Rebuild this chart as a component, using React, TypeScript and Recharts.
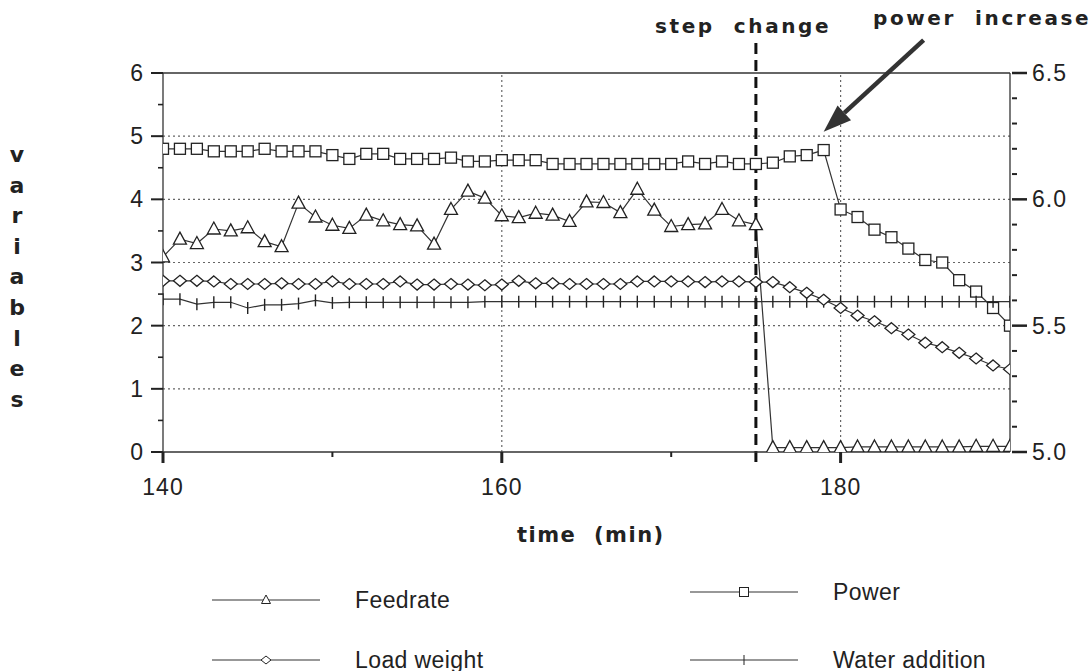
import React from 'react';
import { ComposedChart, Line, XAxis, YAxis, ReferenceLine } from 'recharts';

// time axis, one reading per minute
const minutes = [
  140, 141, 142, 143, 144, 145, 146, 147, 148, 149,
  150, 151, 152, 153, 154, 155, 156, 157, 158, 159,
  160, 161, 162, 163, 164, 165, 166, 167, 168, 169,
  170, 171, 172, 173, 174, 175, 176, 177, 178, 179,
  180, 181, 182, 183, 184, 185, 186, 187, 188, 189, 190,
];

const feedrate = [
  3.09, 3.37, 3.3, 3.53, 3.5, 3.55, 3.33, 3.25, 3.94, 3.72,
  3.59, 3.54, 3.75, 3.66, 3.6, 3.58, 3.29, 3.84, 4.13, 4.02,
  3.74, 3.71, 3.78, 3.75, 3.65, 3.96, 3.95, 3.79, 4.16, 3.83,
  3.57, 3.6, 3.61, 3.84, 3.66, 3.6, 0.07, 0.07, 0.07, 0.07,
  0.07, 0.08, 0.08, 0.08, 0.08, 0.08, 0.08, 0.08, 0.09, 0.09, 0.09,
];

// power is read on the right axis
const power = [
  6.2, 6.2, 6.2, 6.19, 6.19, 6.19, 6.2, 6.19, 6.19, 6.19,
  6.175, 6.16, 6.18, 6.18, 6.16, 6.16, 6.16, 6.165, 6.15, 6.15,
  6.155, 6.155, 6.155, 6.14, 6.14, 6.14, 6.14, 6.14, 6.14, 6.14,
  6.14, 6.15, 6.14, 6.15, 6.14, 6.14, 6.145, 6.17, 6.175, 6.195,
  5.96, 5.93, 5.88, 5.85, 5.805, 5.76, 5.75, 5.68, 5.635, 5.57, 5.5,
];

const loadWeight = [
  2.71, 2.71, 2.71, 2.7, 2.66, 2.66, 2.66, 2.67, 2.66, 2.66,
  2.7, 2.66, 2.66, 2.66, 2.7, 2.65, 2.65, 2.66, 2.65, 2.64,
  2.65, 2.71, 2.67, 2.67, 2.66, 2.66, 2.66, 2.66, 2.7, 2.7,
  2.7, 2.7, 2.69, 2.7, 2.7, 2.69, 2.69, 2.61, 2.52, 2.41,
  2.28, 2.16, 2.07, 1.96, 1.86, 1.73, 1.66, 1.57, 1.48, 1.37, 1.31,
];

const waterAddition = [
  2.42, 2.42, 2.34, 2.37, 2.37, 2.28, 2.33, 2.33, 2.35, 2.4,
  2.36, 2.37, 2.37, 2.37, 2.37, 2.37, 2.37, 2.37, 2.37, 2.38,
  2.38, 2.38, 2.38, 2.38, 2.38, 2.38, 2.38, 2.38, 2.38, 2.38,
  2.38, 2.38, 2.38, 2.38, 2.38, 2.38, 2.38, 2.38, 2.38, 2.38,
  2.38, 2.38, 2.38, 2.38, 2.38, 2.38, 2.38, 2.38, 2.38, 2.38, 2.38,
];

const leftTicks = [0, 0.5, 1, 1.5, 2, 2.5, 3, 3.5, 4, 4.5, 5, 5.5, 6];
const rightTicks = [
  5.0, 5.1, 5.2, 5.3, 5.4, 5.5, 5.6, 5.7, 5.8, 5.9,
  6.0, 6.1, 6.2, 6.3, 6.4, 6.5,
];
const timeTicks = [140, 150, 160, 170, 180];
const timeLabels = [140, 160, 180];
const gridValues = [1, 2, 3, 4, 5];
const gridTimes = [160, 180];
const stepChangeTime = 175;

const data = minutes.map((t, i) => ({
  t,
  feedrate: feedrate[i],
  power: power[i],
  load: loadWeight[i],
  water: waterAddition[i],
}));

const INK = '#222';
const FONT = '"Liberation Sans", Arial, sans-serif';
const BOLD_FONT = '"DejaVu Sans", "Liberation Sans", sans-serif';
const TICK_FONT = 23;

const TriangleDot = (p: any) => {
  const { cx, cy, index } = p;
  if (cx == null || cy == null) return null;
  return (
    <path
      key={`tri-${index}`}
      d={`M${cx},${cy - 7} L${cx + 6.5},${cy + 5} L${cx - 6.5},${cy + 5} Z`}
      fill="#fff"
      stroke={INK}
      strokeWidth={1.3}
    />
  );
};

const SquareDot = (p: any) => {
  const { cx, cy, index } = p;
  if (cx == null || cy == null) return null;
  return <rect key={`sq-${index}`} x={cx - 5.5} y={cy - 5.5} width={11} height={11} fill="#fff" stroke={INK} strokeWidth={1.3} />;
};

const DiamondDot = (p: any) => {
  const { cx, cy, index } = p;
  if (cx == null || cy == null) return null;
  return (
    <path
      key={`dm-${index}`}
      d={`M${cx},${cy - 5.5} L${cx + 6.5},${cy} L${cx},${cy + 5.5} L${cx - 6.5},${cy} Z`}
      fill="#fff"
      stroke={INK}
      strokeWidth={1.3}
    />
  );
};

const TickDot = (p: any) => {
  const { cx, cy, index } = p;
  if (cx == null || cy == null) return null;
  return <line key={`wt-${index}`} x1={cx} x2={cx} y1={cy - 6} y2={cy + 6} stroke={INK} strokeWidth={1.4} />;
};

const LeftTick = (p: any) => {
  const { x, y, payload } = p;
  const v = payload.value;
  const major = Number.isInteger(v);
  return (
    <g>
      <line x1={x} x2={x - (major ? 12 : 5)} y1={y} y2={y} stroke={INK} strokeWidth={major ? 2 : 1.6} />
      {major && (
        <text x={x - 20} y={y + 8} textAnchor="end" fontSize={TICK_FONT} fontFamily={FONT} fill={INK}>
          {v}
        </text>
      )}
    </g>
  );
};

const RightTick = (p: any) => {
  const { x, y, payload } = p;
  const v = payload.value;
  const major = Math.abs(v * 2 - Math.round(v * 2)) < 1e-6;
  return (
    <g>
      <line x1={x + 2} x2={x + (major ? 17 : 7)} y1={y} y2={y} stroke={INK} strokeWidth={major ? 2.5 : 2} />
      {major && (
        <text x={x + 22} y={y + 8} textAnchor="start" fontSize={TICK_FONT} letterSpacing={1} fontFamily={FONT} fill={INK}>
          {v.toFixed(1)}
        </text>
      )}
    </g>
  );
};

const TimeTick = (p: any) => {
  const { x, y, payload } = p;
  const v = payload.value;
  const major = timeLabels.includes(v);
  return (
    <g>
      <line x1={x} x2={x} y1={y} y2={y + (major ? 11 : 5)} stroke={INK} strokeWidth={major ? 3 : 2} />
      {major && (
        <text x={x} y={y + 43} textAnchor="middle" fontSize={TICK_FONT} letterSpacing={1} fontFamily={FONT} fill={INK}>
          {v}
        </text>
      )}
    </g>
  );
};

const Arrow = (p: any) => {
  const { x1, y1, x2, y2 } = p;
  const ang = Math.atan2(y2 - y1, x2 - x1);
  const len = 28;
  const half = 10;
  const bx = x2 - len * Math.cos(ang);
  const by = y2 - len * Math.sin(ang);
  const nx = -Math.sin(ang) * half;
  const ny = Math.cos(ang) * half;
  return (
    <g>
      <line x1={x1} y1={y1} x2={bx} y2={by} stroke="#333" strokeWidth={4.5} />
      <path d={`M${x2},${y2} L${bx + nx},${by + ny} L${bx - nx},${by - ny} Z`} fill="#333" />
    </g>
  );
};

const legendItems = [
  { label: 'Feedrate', left: 212, top: 600, marker: 'tri' },
  { label: 'Power', left: 690, top: 592, marker: 'sq' },
  { label: 'Load weight', left: 212, top: 660, marker: 'dm' },
  { label: 'Water addition', left: 690, top: 660, marker: 'wt' },
];

const LegendMarker = ({ kind }: { kind: string }) => {
  const cx = 54;
  const cy = 10;
  let m: React.ReactNode = null;
  if (kind === 'tri') m = <path d={`M${cx},${cy - 5} L${cx + 4.5},${cy + 3.5} L${cx - 4.5},${cy + 3.5} Z`} fill="#fff" stroke={INK} strokeWidth={1} />;
  if (kind === 'sq') m = <rect x={cx - 4.5} y={cy - 4.5} width={9} height={9} fill="#fff" stroke={INK} strokeWidth={1} />;
  if (kind === 'dm') m = <path d={`M${cx},${cy - 4} L${cx + 5},${cy} L${cx},${cy + 4} L${cx - 5},${cy} Z`} fill="#fff" stroke={INK} strokeWidth={1} />;
  if (kind === 'wt') m = <line x1={cx} x2={cx} y1={cy - 5} y2={cy + 5} stroke={INK} strokeWidth={1} />;
  return (
    <svg width={110} height={20} style={{ display: 'block' }}>
      <line x1={0} x2={108} y1={cy} y2={cy} stroke="#333" strokeWidth={1.2} />
      {m}
    </svg>
  );
};

const yTitle = ['v', 'a', 'r', 'i', 'a', 'b', 'l', 'e', 's'];

export default function App() {
  return (
    <div style={{ position: 'absolute', left: 0, top: 0, width: 1092, height: 671, background: '#fff', fontFamily: FONT }}>
      <ComposedChart width={1092} height={671} data={data} margin={{ top: 73, right: 10, bottom: 179, left: 103 }}>
        <XAxis
          dataKey="t"
          type="number"
          domain={[140, 190]}
          ticks={timeTicks}
          interval={0}
          tick={<TimeTick />}
          tickSize={0}
          tickMargin={0}
          tickLine={false}
          axisLine={{ stroke: '#333', strokeWidth: 1.3 }}
          height={40}
          allowDataOverflow
        />
        <YAxis
          yAxisId="left"
          orientation="left"
          domain={[0, 6]}
          ticks={leftTicks}
          interval={0}
          tick={<LeftTick />}
          tickSize={0}
          tickMargin={0}
          tickLine={false}
          axisLine={{ stroke: '#333', strokeWidth: 1.3 }}
          width={60}
          allowDataOverflow
        />
        <YAxis
          yAxisId="right"
          orientation="right"
          domain={[5, 6.5]}
          ticks={rightTicks}
          interval={0}
          tick={<RightTick />}
          tickSize={0}
          tickMargin={0}
          tickLine={false}
          axisLine={{ stroke: '#333', strokeWidth: 1.3 }}
          width={72}
          allowDataOverflow
        />
        {gridValues.map((v) => (
          <ReferenceLine key={`gy-${v}`} yAxisId="left" y={v} stroke="#666" strokeWidth={1.2} strokeDasharray="2 3" />
        ))}
        {gridTimes.map((t) => (
          <ReferenceLine key={`gx-${t}`} yAxisId="left" x={t} stroke="#666" strokeWidth={1.2} strokeDasharray="2 3" />
        ))}
        <ReferenceLine yAxisId="left" y={6} stroke="#333" strokeWidth={1.3} />
        <Line yAxisId="right" dataKey="power" type="linear" stroke="#333" strokeWidth={1.2} dot={<SquareDot />} isAnimationActive={false} />
        <Line yAxisId="left" dataKey="water" type="linear" stroke="#333" strokeWidth={1.2} dot={<TickDot />} isAnimationActive={false} />
        <Line yAxisId="left" dataKey="load" type="linear" stroke="#333" strokeWidth={1.2} dot={<DiamondDot />} isAnimationActive={false} />
        <Line yAxisId="left" dataKey="feedrate" type="linear" stroke="#333" strokeWidth={1.2} dot={<TriangleDot />} isAnimationActive={false} />
        <ReferenceLine
          yAxisId="left"
          segment={[{ x: stepChangeTime, y: -0.16 }, { x: stepChangeTime, y: 6.55 }]}
          ifOverflow="visible"
          stroke="#111"
          strokeWidth={3}
          strokeDasharray="11 6"
        />
        <ReferenceLine
          yAxisId="left"
          segment={[{ x: 184.9, y: 6.52 }, { x: 179.0, y: 5.07 }]}
          ifOverflow="visible"
          shape={Arrow}
        />
      </ComposedChart>

      <div style={{ position: 'absolute', left: 655, top: 14, fontFamily: BOLD_FONT, fontWeight: 700, fontSize: 20, letterSpacing: 2.6, color: INK, whiteSpace: 'pre' }}>
        {'step  change'}
      </div>
      <div style={{ position: 'absolute', left: 873, top: 6, fontFamily: BOLD_FONT, fontWeight: 700, fontSize: 20, letterSpacing: 2.6, color: INK, whiteSpace: 'pre' }}>
        {'power  increase'}
      </div>
      <div style={{ position: 'absolute', left: 517, top: 523, fontFamily: BOLD_FONT, fontWeight: 700, fontSize: 21, letterSpacing: 1.5, color: INK, whiteSpace: 'pre' }}>
        {'time  (min)'}
      </div>
      {yTitle.map((ch, i) => (
        <div
          key={`yt-${i}`}
          style={{ position: 'absolute', left: 2, width: 30, textAlign: 'center', top: 142 + i * 30.6, fontFamily: BOLD_FONT, fontWeight: 700, fontSize: 22, lineHeight: '26px', color: INK }}
        >
          {ch}
        </div>
      ))}
      {legendItems.map((it) => (
        <div key={it.label} style={{ position: 'absolute', left: it.left, top: it.top - 12, display: 'flex', alignItems: 'center' }}>
          <LegendMarker kind={it.marker} />
          <span style={{ marginLeft: 33, fontSize: 23, letterSpacing: 0.4, lineHeight: '24px', color: INK, fontFamily: FONT }}>{it.label}</span>
        </div>
      ))}
    </div>
  );
}
